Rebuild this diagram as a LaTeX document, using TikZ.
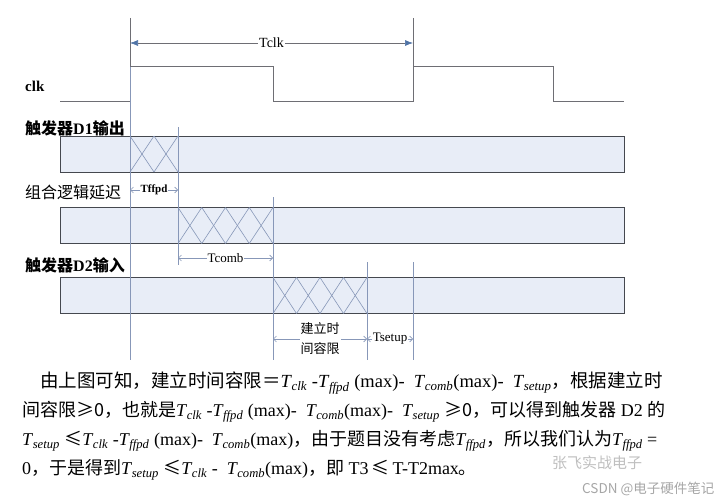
\documentclass[tikz,border=0pt]{standalone}
\usepackage{fontspec}
\setmainfont{Liberation Serif}
\newfontfamily\cjk{Noto Sans CJK SC}
\usetikzlibrary{arrows.meta}

\definecolor{barfill}{HTML}{E8EDF7}
\definecolor{barline}{HTML}{45484F}
\definecolor{guideblue}{HTML}{8797B8}
\definecolor{tipblue}{HTML}{4F73A6}
\definecolor{clkgray}{HTML}{6E6E74}

\newcommand{\Ts}[1]{\textit{T}\kern-0.5pt\textsubscript{\textit{#1}}}
\newcommand{\zh}[1]{{\cjk #1}}

\begin{document}
\begin{tikzpicture}[
    x=1pt, y=-1pt,
    sigbar/.style={
        rectangle,
        draw=barline,
        fill=barfill,
        line width=1pt,
        minimum width=564pt,
        minimum height=36pt,
        inner sep=0pt
    },
    hatch/.style={draw=guideblue, line width=0.6pt},
    guide/.style={draw=guideblue, line width=0.8pt},
    wave/.style={draw=clkgray, line width=1pt},
    spanarrow/.style={draw=clkgray, line width=0.6pt,
        {Latex[length=8pt,width=6pt,color=tipblue]}-{Latex[length=8pt,width=6pt,color=tipblue]}},
    delayarrow/.style={draw=guideblue, line width=0.6pt,
        {Straight Barb[length=3pt]}-{Straight Barb[length=3pt]}},
    lab/.style={font=\fontsize{13}{13}\selectfont, inner sep=1pt, fill=white},
    sig/.style={anchor=west, inner sep=0pt, font=\fontsize{16}{16}\selectfont},
    txt/.style={anchor=west, inner sep=0pt, font=\fontsize{18}{18}\selectfont}
]
\useasboundingbox (0,0) rectangle (722,500);

% clk
\node[sig, font=\bfseries\fontsize{15}{15}\selectfont] (clk) at (25,86) {clk};
\draw[wave] (60,102) -- (130,102) -- (130,67) -- (273,67) -- (273,102)
    -- (413,102) -- (413,67) -- (553,67) -- (553,102) -- (624,102);
\draw[wave] (130,18) -- (130,67);
\draw[wave] (413,18) -- (413,67);

% signalen
\node[sig] (q1lab) at (25,128) {\cjk\bfseries 触发器\rmfamily D1\cjk 输出};
\node[sig] (comblab) at (25,192) {\cjk 组合逻辑延迟};
\node[sig] (d2lab) at (25,265) {\cjk\bfseries 触发器\rmfamily D2\cjk 输入};

\node[sigbar] (q1) at (342,154) {};
\node[sigbar] (comb) at (342,225.5) {};
\node[sigbar] (d2in) at (342,295.5) {};

% overgangen
\foreach \x in {130,154} {
    \draw[hatch] (\x,136) -- (\x+24,172);
    \draw[hatch] (\x,172) -- (\x+24,136);
}
\foreach \x in {178,201.75,225.5,249.25} {
    \draw[hatch] (\x,207.5) -- (\x+23.75,243.5);
    \draw[hatch] (\x,243.5) -- (\x+23.75,207.5);
}
\foreach \x in {273,296.5,320,343.5} {
    \draw[hatch] (\x,277.5) -- (\x+23.5,313.5);
    \draw[hatch] (\x,313.5) -- (\x+23.5,277.5);
}

% hulplijnen
\draw[guide] (130,67) -- (130,360);
\draw[guide] (178,127) -- (178,265);
\draw[guide] (273,197) -- (273,360);
\draw[guide] (367,262) -- (367,360);
\draw[guide] (413,262) -- (413,360);

% tijden
\coordinate (a0) at (130,43);
\coordinate (a1) at (413,43);
\coordinate (b0) at (130,190);
\coordinate (b1) at (178,190);
\coordinate (c0) at (178,258);
\coordinate (c1) at (273,258);
\coordinate (d0) at (273,339);
\coordinate (d1) at (367,339);
\coordinate (e1) at (413,339);

\draw[spanarrow] (a0) -- node[lab, font=\fontsize{14}{14}\selectfont] (tclk) {Tclk} (a1);
\draw[delayarrow] (b0) -- node[lab, font=\bfseries\fontsize{11}{11}\selectfont] (tffpd) {Tffpd} (b1);
\draw[delayarrow] (c0) -- node[lab] (tcomb) {Tcomb} (c1);
\draw[delayarrow] (d0) -- node[lab, align=center, font=\cjk\fontsize{13}{20}\selectfont] (slack) {建立时\\间容限} (d1);
\draw[delayarrow] (d1) -- node[lab] (tsetup) {Tsetup} (e1);

% tekst
\node[txt, font=\fontsize{18.5}{18.5}\selectfont] (l1) at (40,383) {\zh{由上图可知，建立时间容限＝}\Ts{clk} -\Ts{ffpd} (max)-\ \ \Ts{comb}(max)-\ \ \Ts{setup}\zh{，根据建立时}};
\node[txt] (l2) at (22,412) {\zh{间容限≥0，也就是}\Ts{clk} -\Ts{ffpd} (max)-\ \ \Ts{comb}(max)-\ \ \Ts{setup} \zh{≥0，可以得到触发器} D2 \zh{的}};
\node[txt] (l3) at (22,441) {\Ts{setup} \zh{≤}\Ts{clk} -\Ts{ffpd} (max)-\ \ \Ts{comb}(max)\zh{，由于题目没有考虑}\Ts{ffpd}\zh{，所以我们认为}\Ts{ffpd} =};
\node[txt] (l4) at (22,470) {0\zh{，于是得到}\Ts{setup} \zh{≤}\Ts{clk} -\ \ \Ts{comb}(max)\zh{，即} T3\,\zh{≤}\,T-T2max\zh{。}};

% watermerk
\node[anchor=west, inner sep=0pt, text=black!25, font=\cjk\fontsize{15}{15}\selectfont] (wm) at (552,463) {张飞实战电子};
\node[anchor=west, inner sep=0pt, text=black!35, font=\cjk\fontsize{13.5}{13.5}\selectfont] (csdn) at (582,489) {CSDN @电子硬件笔记};

\end{tikzpicture}
\end{document}
